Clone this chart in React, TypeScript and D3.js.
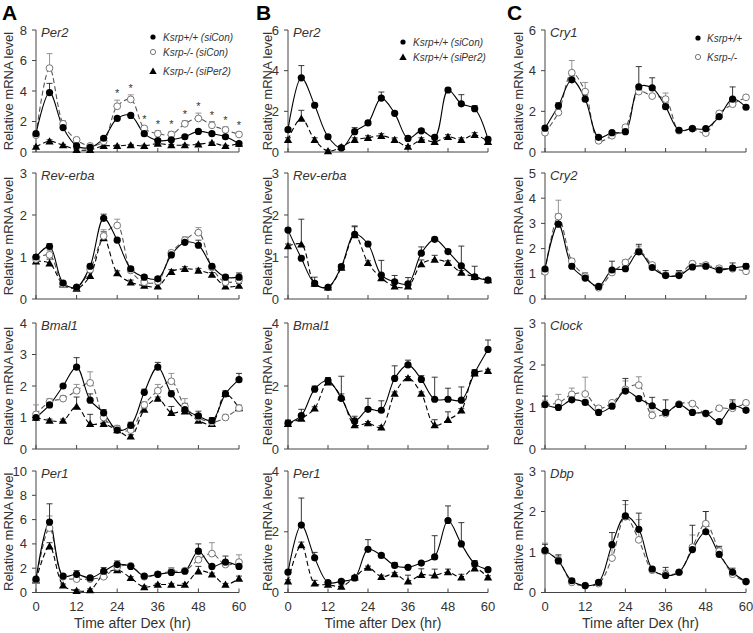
import React from "react";
import * as d3 from "d3";

// ---------- data ----------
const times = [0, 4, 8, 12, 16, 20, 24, 28, 32, 36, 40, 44, 48, 52, 56, 60];
const xTicks = [0, 12, 24, 36, 48, 60];

// Column A (Ksrp+/+ siCon = wt, Ksrp-/- siCon = ko, Ksrp-/- siPer2 = si)
const aPer2Wt = [1.2, 3.9, 1.6, 0.4, 0.3, 0.9, 2.2, 2.4, 1.2, 0.75, 0.8, 1.0, 1.35, 1.2, 1.0, 0.55];
const aPer2WtErr = [0.1, 0.6, 0.2, 0.1, 0.05, 0.1, 0.1, 0.1, 0.1, 0.1, 0.1, 0.1, 0.1, 0.1, 0.1, 0.1];
const aPer2Ko = [1.1, 5.5, 1.85, 0.8, 0.4, 0.7, 3.0, 3.45, 1.55, 1.2, 1.15, 1.85, 2.2, 1.75, 1.45, 1.15];
const aPer2KoErr = [0.1, 0.95, 0.2, 0.1, 0.05, 0.1, 0.4, 0.3, 0.15, 0.2, 0.2, 0.2, 0.35, 0.25, 0.2, 0.15];
const aPer2Si = [0.35, 0.7, 0.45, 0.15, 0.15, 0.4, 0.4, 0.45, 0.4, 0.55, 0.45, 0.45, 0.5, 0.6, 0.4, 0.55];
const aPer2SiErr = [0.05, 0.1, 0.05, 0.05, 0.05, 0.05, 0.05, 0.05, 0.05, 0.05, 0.05, 0.05, 0.05, 0.05, 0.05, 0.05];
const aPer2Stars = [24, 28, 32, 36, 40, 44, 48, 52, 56, 60];

const aRevWt = [1.0, 1.25, 0.38, 0.28, 0.78, 1.92, 1.4, 0.72, 0.52, 0.48, 1.05, 1.35, 1.28, 0.78, 0.52, 0.52];
const aRevWtErr = [0.05, 0.07, 0.05, 0.03, 0.05, 0.1, 0.05, 0.05, 0.05, 0.05, 0.05, 0.08, 0.12, 0.05, 0.05, 0.1];
const aRevKo = [0.95, 1.05, 0.35, 0.28, 0.7, 1.5, 1.75, 0.68, 0.4, 0.42, 1.1, 1.4, 1.58, 0.75, 0.4, 0.45];
const aRevKoErr = [0.05, 0.1, 0.05, 0.03, 0.05, 0.15, 0.15, 0.05, 0.05, 0.05, 0.05, 0.08, 0.12, 0.05, 0.05, 0.1];
const aRevSi = [0.9, 0.85, 0.35, 0.25, 0.55, 1.45, 0.62, 0.4, 0.32, 0.3, 0.65, 0.72, 0.68, 0.58, 0.3, 0.32];
const aRevSiErr = [0.05, 0.1, 0.05, 0.03, 0.1, 0.15, 0.05, 0.05, 0.05, 0.05, 0.05, 0.05, 0.05, 0.05, 0.05, 0.05];

const aBmalWt = [1.0, 1.4, 2.0, 2.6, 1.55, 1.15, 0.6, 0.75, 1.8, 2.6, 1.75, 1.25, 1.05, 0.9, 1.75, 2.2];
const aBmalWtErr = [0.1, 0.1, 0.05, 0.3, 0.2, 0.1, 0.1, 0.1, 0.1, 0.15, 0.1, 0.2, 0.15, 0.1, 0.1, 0.2];
const aBmalKo = [1.1, 1.5, 1.6, 1.85, 2.1, 1.0, 0.65, 0.6, 1.4, 1.85, 2.15, 1.35, 1.0, 0.85, 1.0, 1.3];
const aBmalKoErr = [0.3, 0.1, 0.1, 0.2, 0.35, 0.1, 0.1, 0.1, 0.1, 0.2, 0.25, 0.25, 0.1, 0.1, 0.1, 0.1];
const aBmalSi = [1.0, 0.9, 0.9, 1.35, 0.8, 0.8, 0.6, 0.4, 1.25, 1.6, 1.15, 1.2, 0.9, 0.8, 1.75, 1.3];
const aBmalSiErr = [0.05, 0.05, 0.05, 0.3, 0.3, 0.05, 0.05, 0.05, 0.05, 0.05, 0.2, 0.05, 0.05, 0.05, 0.05, 0.05];

const aPer1Wt = [1.1, 5.8, 1.35, 1.5, 1.2, 1.75, 2.3, 2.15, 1.35, 1.5, 1.65, 1.75, 3.4, 2.15, 2.5, 2.15];
const aPer1WtErr = [0.15, 1.5, 0.15, 0.3, 0.15, 0.3, 0.3, 0.15, 0.15, 0.15, 0.15, 0.15, 0.6, 0.15, 0.5, 0.15];
const aPer1Ko = [1.0, 5.3, 1.3, 1.1, 1.1, 1.3, 2.1, 2.2, 1.3, 1.5, 1.75, 1.8, 2.7, 3.2, 2.3, 2.5];
const aPer1KoErr = [0.15, 1.0, 0.15, 0.15, 0.15, 0.15, 0.2, 0.15, 0.15, 0.2, 0.3, 0.15, 0.2, 0.9, 0.2, 0.6];
const aPer1Si = [1.0, 3.8, 0.6, 0.15, 0.2, 1.5, 1.85, 1.2, 0.45, 0.65, 0.65, 0.65, 1.75, 1.5, 0.65, 1.15];
const aPer1SiErr = [0.1, 0.3, 0.1, 0.1, 0.1, 0.1, 0.1, 0.1, 0.1, 0.1, 0.1, 0.1, 0.4, 0.1, 0.1, 0.2];

// Column B (Ksrp+/+ siCon = wt, Ksrp+/+ siPer2 = si)
const bPer2Wt = [1.1, 3.65, 2.3, 0.75, 0.2, 1.0, 1.43, 2.65, 1.9, 0.67, 1.04, 0.72, 3.05, 2.37, 2.13, 0.62];
const bPer2WtErr = [0.1, 0.6, 0.1, 0.1, 0.05, 0.2, 0.1, 0.3, 0.1, 0.1, 0.1, 0.1, 0.1, 0.45, 0.15, 0.1];
const bPer2Si = [0.6, 1.65, 0.6, 0.05, 0.25, 0.6, 0.7, 0.8, 0.6, 0.27, 0.6, 0.5, 0.75, 0.6, 0.85, 0.5];
const bPer2SiErr = [0.1, 0.4, 0.1, 0.05, 0.05, 0.1, 0.1, 0.1, 0.1, 0.05, 0.1, 0.1, 0.1, 0.1, 0.1, 0.1];

const bRevWt = [1.64, 0.97, 0.37, 0.28, 0.77, 1.54, 1.31, 0.57, 0.41, 0.36, 1.09, 1.42, 1.13, 0.79, 0.53, 0.45];
const bRevWtErr = [0.05, 0.05, 0.05, 0.03, 0.05, 0.2, 0.05, 0.35, 0.15, 0.15, 0.15, 0.05, 0.05, 0.47, 0.25, 0.05];
const bRevSi = [1.26, 1.3, 0.37, 0.28, 0.75, 1.52, 0.86, 0.5, 0.3, 0.3, 0.83, 0.94, 0.86, 0.63, 0.53, 0.45];
const bRevSiErr = [0.05, 0.6, 0.15, 0.03, 0.05, 0.2, 0.05, 0.05, 0.15, 0.1, 0.1, 0.1, 0.05, 0.05, 0.05, 0.05];

const bBmalWt = [0.82, 1.06, 1.9, 2.17, 1.61, 0.89, 1.26, 1.23, 2.24, 2.67, 2.21, 1.58, 1.58, 1.55, 2.42, 3.16];
const bBmalWtErr = [0.1, 0.2, 0.1, 0.1, 0.7, 0.15, 0.35, 0.3, 0.4, 0.15, 0.12, 0.7, 0.35, 0.42, 0.1, 0.3];
const bBmalSi = [0.8, 0.97, 1.29, 2.12, 1.65, 0.76, 0.82, 0.69, 1.76, 2.25, 1.76, 0.76, 0.93, 1.23, 2.4, 2.48];
const bBmalSiErr = [0.1, 0.1, 0.05, 0.05, 0.1, 0.05, 0.05, 0.05, 0.05, 0.05, 0.05, 0.17, 0.25, 0.05, 0.1, 0.05];

const bPer1Wt = [0.67, 2.22, 1.14, 0.33, 0.37, 0.48, 1.42, 1.22, 0.89, 0.83, 0.97, 1.17, 2.37, 1.6, 0.95, 0.75];
const bPer1WtErr = [0.05, 0.89, 0.18, 0.05, 0.05, 0.05, 0.32, 0.05, 0.1, 0.05, 0.05, 0.7, 0.48, 0.7, 0.1, 0.05];
const bPer1Si = [0.37, 1.56, 0.3, 0.26, 0.2, 0.5, 0.82, 0.52, 0.61, 0.37, 0.58, 0.57, 0.67, 0.5, 0.8, 0.5];
const bPer1SiErr = [0.05, 0.1, 0.1, 0.05, 0.05, 0.05, 0.05, 0.05, 0.05, 0.2, 0.2, 0.2, 0.1, 0.1, 0.05, 0.05];

// Column C (Ksrp+/+ = wt, Ksrp-/- = ko)
const cCry1Wt = [1.17, 2.27, 3.55, 2.6, 0.72, 0.95, 1.0, 3.2, 3.15, 2.23, 1.07, 1.15, 1.15, 1.74, 2.6, 2.2];
const cCry1WtErr = [0.1, 0.15, 0.2, 0.2, 0.05, 0.05, 0.05, 1.0, 0.5, 0.1, 0.1, 0.05, 0.05, 0.1, 0.6, 0.1];
const cCry1Ko = [0.95, 1.94, 3.9, 2.97, 0.55, 0.8, 1.22, 2.97, 2.75, 2.6, 1.05, 1.15, 0.93, 1.9, 2.35, 2.69];
const cCry1KoErr = [0.1, 0.15, 0.6, 0.45, 0.05, 0.05, 0.05, 0.1, 0.1, 0.3, 0.1, 0.05, 0.05, 0.1, 0.2, 0.1];

const cCry2Wt = [1.19, 2.97, 1.3, 0.83, 0.5, 1.15, 1.2, 1.87, 1.25, 0.93, 0.93, 1.27, 1.3, 1.15, 1.23, 1.3];
const cCry2WtErr = [0.05, 0.4, 0.1, 0.1, 0.05, 0.35, 0.1, 0.3, 0.1, 0.2, 0.2, 0.1, 0.1, 0.1, 0.2, 0.1];
const cCry2Ko = [1.08, 3.27, 1.5, 0.9, 0.45, 1.05, 1.45, 1.9, 1.35, 0.95, 0.97, 1.4, 1.35, 1.22, 1.2, 1.1];
const cCry2KoErr = [0.05, 0.65, 0.1, 0.15, 0.05, 0.1, 0.1, 0.2, 0.1, 0.1, 0.1, 0.1, 0.1, 0.1, 0.1, 0.1];

const cClockWt = [1.06, 0.99, 1.17, 1.11, 0.87, 1.02, 1.38, 1.2, 1.03, 0.87, 1.06, 0.87, 0.85, 0.65, 1.02, 0.92];
const cClockWtErr = [0.2, 0.05, 0.05, 0.05, 0.05, 0.05, 0.3, 0.05, 0.2, 0.3, 0.05, 0.05, 0.05, 0.05, 0.15, 0.05];
const cClockKo = [1.06, 1.1, 1.3, 1.31, 0.97, 1.1, 1.42, 1.52, 0.8, 0.84, 1.07, 1.08, 0.84, 0.97, 0.97, 1.1];
const cClockKoErr = [0.1, 0.2, 0.15, 0.4, 0.05, 0.05, 0.2, 0.2, 0.1, 0.1, 0.05, 0.05, 0.05, 0.05, 0.15, 0.05];

const cDbpWt = [1.04, 0.78, 0.29, 0.17, 0.25, 1.18, 1.89, 1.56, 0.58, 0.42, 0.5, 1.06, 1.5, 0.94, 0.5, 0.27];
const cDbpWtErr = [0.15, 0.15, 0.05, 0.03, 0.05, 0.3, 0.38, 0.4, 0.05, 0.2, 0.05, 0.6, 0.5, 0.2, 0.1, 0.03];
const cDbpKo = [1.02, 0.8, 0.25, 0.17, 0.22, 0.85, 1.87, 1.3, 0.55, 0.45, 0.5, 1.12, 1.7, 1.02, 0.45, 0.27];
const cDbpKoErr = [0.2, 0.1, 0.05, 0.03, 0.05, 0.35, 0.3, 0.5, 0.05, 0.1, 0.05, 0.3, 0.3, 0.1, 0.05, 0.03];

const legendA = ["Ksrp+/+ (siCon)", "Ksrp-/- (siCon)", "Ksrp-/- (siPer2)"];
const legendB = ["Ksrp+/+ (siCon)", "Ksrp+/+ (siPer2)"];
const legendC = ["Ksrp+/+", "Ksrp-/-"];
const panelLetters = ["A", "B", "C"];
const xTitle = "Time after Dex (hr)";
const yTitle = "Relative mRNA level";

// ---------- layout ----------
const FONT = "'Liberation Sans', Arial, Helvetica, sans-serif";
const colX: [number, number][] = [[36, 239], [288, 488], [545, 746]];
const rowY: [number, number][] = [[152, 30], [299, 173], [449, 323], [592.5, 471]];
const yTitleX = [8, 267, 518];

type Kind = "wt" | "ko" | "si";
type Series = { kind: Kind; v: number[]; e: number[] };
type Panel = { col: number; row: number; gene: string; yMax: number; yStep: number; series: Series[]; stars?: number[] };

const panels: Panel[] = [
  { col: 0, row: 0, gene: "Per2", yMax: 8, yStep: 2, stars: aPer2Stars, series: [
    { kind: "si", v: aPer2Si, e: aPer2SiErr }, { kind: "ko", v: aPer2Ko, e: aPer2KoErr }, { kind: "wt", v: aPer2Wt, e: aPer2WtErr }] },
  { col: 0, row: 1, gene: "Rev-erba", yMax: 3, yStep: 1, series: [
    { kind: "si", v: aRevSi, e: aRevSiErr }, { kind: "ko", v: aRevKo, e: aRevKoErr }, { kind: "wt", v: aRevWt, e: aRevWtErr }] },
  { col: 0, row: 2, gene: "Bmal1", yMax: 4, yStep: 1, series: [
    { kind: "si", v: aBmalSi, e: aBmalSiErr }, { kind: "ko", v: aBmalKo, e: aBmalKoErr }, { kind: "wt", v: aBmalWt, e: aBmalWtErr }] },
  { col: 0, row: 3, gene: "Per1", yMax: 10, yStep: 2, series: [
    { kind: "si", v: aPer1Si, e: aPer1SiErr }, { kind: "ko", v: aPer1Ko, e: aPer1KoErr }, { kind: "wt", v: aPer1Wt, e: aPer1WtErr }] },
  { col: 1, row: 0, gene: "Per2", yMax: 6, yStep: 2, series: [
    { kind: "si", v: bPer2Si, e: bPer2SiErr }, { kind: "wt", v: bPer2Wt, e: bPer2WtErr }] },
  { col: 1, row: 1, gene: "Rev-erba", yMax: 3, yStep: 1, series: [
    { kind: "si", v: bRevSi, e: bRevSiErr }, { kind: "wt", v: bRevWt, e: bRevWtErr }] },
  { col: 1, row: 2, gene: "Bmal1", yMax: 4, yStep: 2, series: [
    { kind: "si", v: bBmalSi, e: bBmalSiErr }, { kind: "wt", v: bBmalWt, e: bBmalWtErr }] },
  { col: 1, row: 3, gene: "Per1", yMax: 4, yStep: 2, series: [
    { kind: "si", v: bPer1Si, e: bPer1SiErr }, { kind: "wt", v: bPer1Wt, e: bPer1WtErr }] },
  { col: 2, row: 0, gene: "Cry1", yMax: 6, yStep: 2, series: [
    { kind: "ko", v: cCry1Ko, e: cCry1KoErr }, { kind: "wt", v: cCry1Wt, e: cCry1WtErr }] },
  { col: 2, row: 1, gene: "Cry2", yMax: 5, yStep: 1, series: [
    { kind: "ko", v: cCry2Ko, e: cCry2KoErr }, { kind: "wt", v: cCry2Wt, e: cCry2WtErr }] },
  { col: 2, row: 2, gene: "Clock", yMax: 3, yStep: 1, series: [
    { kind: "ko", v: cClockKo, e: cClockKoErr }, { kind: "wt", v: cClockWt, e: cClockWtErr }] },
  { col: 2, row: 3, gene: "Dbp", yMax: 3, yStep: 1, series: [
    { kind: "ko", v: cDbpKo, e: cDbpKoErr }, { kind: "wt", v: cDbpWt, e: cDbpWtErr }] },
];

const AXIS = "#444";
const TXT = "#333";
const triPath = d3.symbol(d3.symbolTriangle, 30)() as string;
const triPathSm = d3.symbol(d3.symbolTriangle, 24)() as string;

function Marker({ kind, x, y, small }: { kind: Kind; x: number; y: number; small?: boolean }) {
  if (kind === "wt") return <circle cx={x} cy={y} r={small ? 2.6 : 3.6} fill="#000" />;
  if (kind === "ko") return <circle cx={x} cy={y} r={small ? 2.6 : 3.4} fill="#fff" stroke="#777" strokeWidth={1} />;
  return <path d={small ? triPathSm : triPath} transform={`translate(${x},${y + 0.8})`} fill="#000" />;
}

function PanelView({ p }: { p: Panel }) {
  const [x0, x1] = colX[p.col];
  const [yb, yt] = rowY[p.row];
  const x = d3.scaleLinear().domain([0, 60]).range([x0, x1]);
  const y = d3.scaleLinear().domain([0, p.yMax]).range([yb, yt]);
  const yTicks = d3.range(0, p.yMax + 0.001, p.yStep);
  const line = d3.line<number>().x((_, i) => x(times[i])).y((d) => y(d)).curve(d3.curveCatmullRom.alpha(0.5));
  const isBottom = p.row === 3;
  return (
    <g>
      {/* axes */}
      <line x1={x0} x2={x0} y1={yb} y2={yt} stroke={AXIS} strokeWidth={1} />
      <line x1={x0} x2={x1} y1={yb} y2={yb} stroke={AXIS} strokeWidth={1} />
      {yTicks.map((t) => (
        <g key={"yt" + t}>
          <line x1={x0 - 4} x2={x0} y1={y(t)} y2={y(t)} stroke={AXIS} />
          <text x={x0 - 9} y={y(t)} dy="0.35em" textAnchor="end" fontSize={13} fill={TXT} fontFamily={FONT}>{t}</text>
        </g>
      ))}
      {xTicks.map((t) => (
        <g key={"xt" + t}>
          <line x1={x(t)} x2={x(t)} y1={yb} y2={yb - 4} stroke={AXIS} />
          {isBottom && (
            <text x={x(t)} y={yb + 18} textAnchor="middle" fontSize={13} fill={TXT} fontFamily={FONT}>{t}</text>
          )}
        </g>
      ))}
      <text x={x0 + 5} y={yt + 7} fontSize={13} fontStyle="italic" fill={TXT} fontFamily={FONT}>{p.gene}</text>
      <text transform={`translate(${yTitleX[p.col]},${(yb + yt) / 2}) rotate(-90)`} dy="0.35em" textAnchor="middle"
        fontSize={13} fill={TXT} fontFamily={FONT}>{yTitle}</text>
      {isBottom && (
        <text x={(x0 + x1) / 2 - 5} y={628} textAnchor="middle" fontSize={14} fill={TXT} fontFamily={FONT}>{xTitle}</text>
      )}
      {/* lines */}
      {p.series.map((s, si) => (
        <path key={"l" + si} d={line(s.v) as string} fill="none" stroke={s.kind === "ko" ? "#555" : "#000"}
          strokeWidth={1.1} strokeDasharray={s.kind === "wt" ? undefined : "5,3"} />
      ))}
      {/* error bars */}
      {p.series.map((s, si) => (
        <g key={"e" + si} stroke={s.kind === "ko" ? "#888" : "#222"} strokeWidth={0.9}>
          {s.v.map((v, i) => {
            const cx = x(times[i]);
            const ty = y(v + s.e[i]);
            return (
              <g key={i}>
                <line x1={cx} x2={cx} y1={y(v)} y2={ty} />
                <line x1={cx - 3} x2={cx + 3} y1={ty} y2={ty} />
              </g>
            );
          })}
        </g>
      ))}
      {/* markers */}
      {p.series.map((s, si) => (
        <g key={"m" + si}>
          {s.v.map((v, i) => <Marker key={i} kind={s.kind} x={x(times[i])} y={y(v)} />)}
        </g>
      ))}
      {/* significance */}
      {p.stars && p.stars.map((t) => {
        const ko = p.series.find((s) => s.kind === "ko")!;
        const i = times.indexOf(t);
        return (
          <text key={"s" + t} x={x(t)} y={y(ko.v[i] + ko.e[i]) - 3} textAnchor="middle" fontSize={11} fill={TXT} fontFamily={FONT}>*</text>
        );
      })}
    </g>
  );
}

function Legend({ items, kinds, mx, tx, ys }: { items: string[]; kinds: Kind[]; mx: number; tx: number; ys: number[] }) {
  return (
    <g>
      {items.map((it, i) => (
        <g key={it}>
          <Marker kind={kinds[i]} x={mx} y={ys[i]} small />
          <text x={tx} y={ys[i]} dy="0.35em" fontSize={10} fontStyle="italic" fill={TXT} fontFamily={FONT}>{it}</text>
        </g>
      ))}
    </g>
  );
}

export default function App() {
  return (
    <svg width={753} height={633} style={{ position: "absolute", left: 0, top: 0, background: "#fff" }}>
      <rect width={753} height={633} fill="#fff" />
      {panelLetters.map((l, i) => (
        <text key={l} x={[2, 256, 507][i]} y={20} fontSize={21} fontWeight="bold" fill="#000" fontFamily={FONT}>{l}</text>
      ))}
      {panels.map((p, i) => <PanelView key={i} p={p} />)}
      <Legend items={legendA} kinds={["wt", "ko", "si"]} mx={153} tx={163} ys={[37, 52, 71]} />
      <Legend items={legendB} kinds={["wt", "si"]} mx={403} tx={413} ys={[42, 57]} />
      <Legend items={legendC} kinds={["wt", "ko"]} mx={698} tx={707} ys={[38, 57]} />
    </svg>
  );
}
